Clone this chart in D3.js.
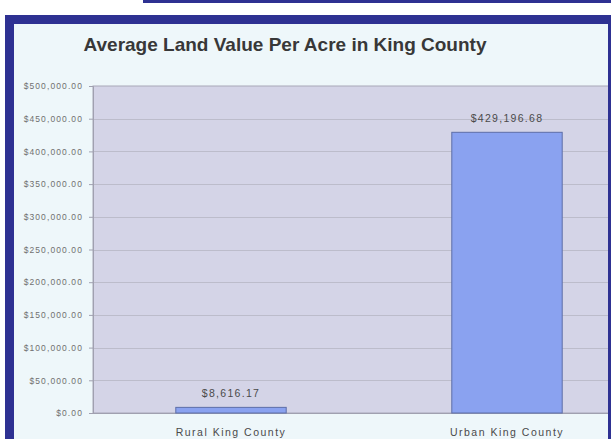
<!DOCTYPE html>
<html><head><meta charset="utf-8">
<script src="https://cdn.jsdelivr.net/npm/d3@7"></script>
<style>html,body{margin:0;padding:0;background:#fff;overflow:hidden}</style>
</head><body>
<svg id="c" width="611" height="439"></svg>
<script>
const title = "Average Land Value Per Acre in King County";
const categories = ["Rural King County", "Urban King County"];
const values = [8616.17, 429196.68];
const valueLabels = ["$8,616.17", "$429,196.68"];
const tickValues = [0, 50000, 100000, 150000, 200000, 250000, 300000, 350000, 400000, 450000, 500000];

const svg = d3.select("#c");
const W = 611, H = 439;
const frameCol = "#2e3192";

// top strip
svg.append("rect").attr("x",143).attr("y",0).attr("width",W-143).attr("height",3).attr("fill",frameCol);
// frame
svg.append("rect").attr("x",5).attr("y",15).attr("width",W-5).attr("height",H).attr("fill",frameCol);
svg.append("rect").attr("x",14).attr("y",24).attr("width",608-14).attr("height",H).attr("fill","#eef7fa");

const m = {left:93, top:86, bottom:413, right:645};
const y = d3.scaleLinear().domain([0,500000]).range([m.bottom, m.top]);
const x = d3.scaleBand().domain(categories).range([m.left, m.right]).paddingInner(0.6).paddingOuter(0.3);

svg.append("clipPath").attr("id","clip").append("rect").attr("x",0).attr("y",0).attr("width",608).attr("height",H);
const g = svg.append("g").attr("clip-path","url(#clip)");

g.append("rect").attr("x",m.left).attr("y",m.top).attr("width",m.right-m.left).attr("height",m.bottom-m.top)
  .attr("fill","#d4d4e7").attr("stroke","#a8a8b8").attr("stroke-width",1);

// gridlines
g.selectAll("line.grid").data(tickValues.filter(v=>v>0 && v<500000)).join("line")
  .attr("x1",m.left).attr("x2",m.right)
  .attr("y1",d=>Math.round(y(d))+0.5).attr("y2",d=>Math.round(y(d))+0.5)
  .attr("stroke","#bcbccb").attr("stroke-width",1);

// y axis
const fmt = d => "$" + d3.format(",.2f")(d);
const yAxis = d3.axisLeft(y).tickValues(tickValues).tickFormat(fmt).tickSize(4).tickPadding(6);
const ya = svg.append("g").attr("transform",`translate(${m.left},0)`).call(yAxis);
ya.select(".domain").attr("stroke","#a0a0b0");
ya.selectAll(".tick line").attr("stroke","#a0a0b0");
ya.selectAll(".tick text").attr("fill","#707070").style("font-family","Liberation Sans, Arial, sans-serif")
  .style("font-size","8.5px").style("letter-spacing","1.1px");

// x axis baseline
g.append("line").attr("x1",m.left).attr("x2",m.right).attr("y1",m.bottom+0.5).attr("y2",m.bottom+0.5).attr("stroke","#a0a0b0");

// bars
g.selectAll("rect.bar").data(values).join("rect")
  .attr("x",(d,i)=>x(categories[i])).attr("width",x.bandwidth())
  .attr("y",d=>y(d)).attr("height",d=>m.bottom-y(d))
  .attr("fill","#8aa2f0").attr("stroke","#5d6ea8").attr("stroke-width",1);

// value labels
svg.selectAll("text.val").data(values).join("text")
  .attr("x",(d,i)=>x(categories[i])+x.bandwidth()/2).attr("y",d=>y(d)-10)
  .attr("text-anchor","middle").attr("fill","#4a4a4a")
  .style("font-family","Liberation Sans, Arial, sans-serif").style("font-size","10.5px").style("letter-spacing","1.3px")
  .text((d,i)=>valueLabels[i]);

// category labels
svg.selectAll("text.cat").data(categories).join("text")
  .attr("x",d=>x(d)+x.bandwidth()/2).attr("y",436)
  .attr("text-anchor","middle").attr("fill","#4a4a4a")
  .style("font-family","Liberation Sans, Arial, sans-serif").style("font-size","10.5px").style("letter-spacing","1.5px")
  .text(d=>d);

// title
svg.append("text").attr("x",285).attr("y",51).attr("text-anchor","middle").attr("fill","#383838")
  .style("font-family","Liberation Sans, Arial, sans-serif").style("font-size","19px").style("font-weight","bold")
  .text(title);
</script>
</body></html>
